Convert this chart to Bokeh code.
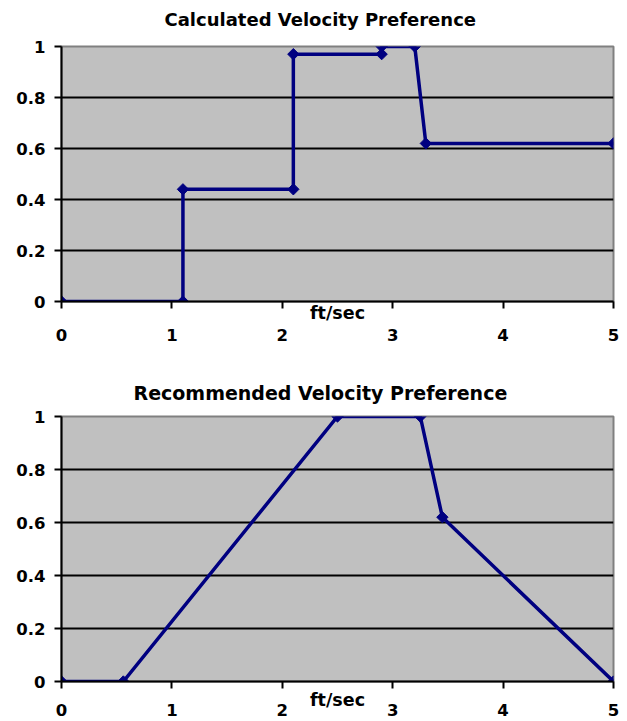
from bokeh.plotting import figure
from bokeh.layouts import column
from bokeh.models import Range1d, FixedTicker, Title
from bokeh.embed import file_html
from bokeh.resources import INLINE

# Calculated preference: step curve over water velocity (ft/sec)
calc_speed = [0, 1.1, 1.1, 2.1, 2.1, 2.9, 2.9, 3.2, 3.3, 5]
calc_pref = [0, 0, 0.44, 0.44, 0.97, 0.97, 1.0, 1.0, 0.62, 0.62]

# Recommended preference curve
rec_speed = [0, 0.56, 2.5, 3.25, 3.45, 5]
rec_pref = [0, 0, 1.0, 1.0, 0.62, 0]

x_ticks = [0, 1, 2, 3, 4, 5]
x_tick_labels = ["0", "1", "2", "3", "4", "5"]
y_ticks = [0, 0.2, 0.4, 0.6, 0.8, 1.0]
y_tick_labels = ["0", "0.2", "0.4", "0.6", "0.8", "1"]

titles = ["Calculated Velocity Preference", "Recommended Velocity Preference"]
x_title = "ft/sec"

FONT = "DejaVu Sans"
NAVY = "#000080"
TICK_SIZE = "16.5px"
UNIT_SIZE = "17.5px"


def make_title(text, size, offset, gap):
    t = Title(text=text, text_font=FONT, text_font_style="bold",
              text_font_size=size, text_color="black",
              align="left", offset=offset, standoff=0)
    # keep a blank band between the title and the plot area
    try:
        t.padding = dict(left=0, right=0, top=0, bottom=gap)
    except Exception:
        t.standoff = gap
    return t


def make_panel(xs, ys, title, height, top, bottom, title_offset, title_gap,
               title_size, tick_label_standoff, unit_standoff):
    p = figure(width=627, height=height, output_backend="svg",
               toolbar_location=None, title=None,
               x_range=Range1d(0, 5), y_range=Range1d(0, 1),
               min_border_left=61, min_border_right=14,
               min_border_top=top, min_border_bottom=bottom)

    p.background_fill_color = "#c0c0c0"
    p.border_fill_color = "white"
    p.outline_line_color = "#808080"
    p.outline_line_width = 2

    xa = p.below[0]
    ya = p.left[0]

    p.add_layout(make_title(title, title_size, title_offset, title_gap), "above")

    p.xgrid.visible = False
    p.ygrid.ticker = FixedTicker(ticks=y_ticks[1:-1])
    p.ygrid.grid_line_color = "black"
    p.ygrid.grid_line_width = 2

    for ax in (xa, ya):
        ax.axis_line_color = "black"
        ax.axis_line_width = 2
        ax.major_tick_line_color = "black"
        ax.major_tick_line_width = 2
        ax.major_tick_in = 0
        ax.major_tick_out = 7
        ax.minor_tick_line_color = None
        ax.major_label_text_font = FONT
        ax.major_label_text_font_style = "bold"
        ax.major_label_text_font_size = TICK_SIZE
        ax.major_label_text_color = "black"

    xa.ticker = FixedTicker(ticks=x_ticks)
    xa.major_label_overrides = dict(zip(x_ticks, x_tick_labels))
    xa.major_label_standoff = tick_label_standoff
    # the unit caption sits between the ticks and the tick labels
    xa.axis_label = x_title
    xa.axis_label_text_font = FONT
    xa.axis_label_text_font_style = "bold"
    xa.axis_label_text_font_size = UNIT_SIZE
    xa.axis_label_text_color = "black"
    xa.axis_label_standoff = unit_standoff

    ya.ticker = FixedTicker(ticks=y_ticks)
    ya.major_label_overrides = dict(zip(y_ticks, y_tick_labels))
    ya.major_label_standoff = 9

    p.line(xs, ys, line_color=NAVY, line_width=3.5)
    p.scatter(xs, ys, marker="square", angle=0.785398, size=8,
              fill_color=NAVY, line_color=NAVY)
    return p


top_chart = make_panel(calc_speed, calc_pref, titles[0], 360, 46, 59,
                       103, 17, "18px", 20, -41)
bottom_chart = make_panel(rec_speed, rec_pref, titles[1], 361, 56, 40,
                          72, 13, "19px", 15, -29)

layout = column(top_chart, bottom_chart, spacing=0)

with open("out.html", "w") as f:
    f.write(file_html(layout, INLINE))
